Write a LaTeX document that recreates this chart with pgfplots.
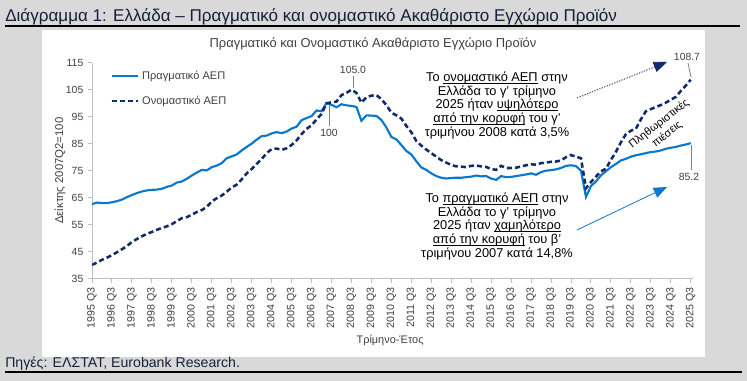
\documentclass[border=0pt]{standalone}
\usepackage{pgfplots}
\pgfplotsset{compat=1.18}
\usepackage{pgfplotstable}
\usepackage{fontspec}
\setmainfont{Liberation Sans}
\usetikzlibrary{arrows.meta}
\definecolor{bg}{HTML}{D9D9D9}
\definecolor{realc}{HTML}{0A78CC}
\definecolor{nomc}{HTML}{102A6B}
\definecolor{axc}{HTML}{BFBFBF}
\definecolor{txt}{HTML}{404040}
\definecolor{ttl}{HTML}{17203A}
\newcommand{\ul}[1]{\begingroup\setbox0=\hbox{#1}\rlap{\rule[-1.6pt]{\wd0}{0.55pt}}\box0\endgroup}

\pgfplotstableread{
i real nom
0 62.6 40.1
1 63.2 41.0
2 63.0 42.0
3 63.0 42.8
4 63.3 43.7
5 63.7 44.8
6 64.3 45.9
7 65.2 47.1
8 66.0 48.6
9 66.7 49.7
10 67.3 50.7
11 67.7 51.6
12 67.9 52.3
13 68.0 53.1
14 68.3 53.8
15 69.0 54.4
16 69.5 55.2
17 70.6 56.3
18 71.0 57.4
19 72.0 57.8
20 73.2 58.7
21 74.3 59.7
22 75.3 60.4
23 75.1 61.6
24 76.3 63.6
25 76.9 64.8
26 77.8 65.8
27 79.6 67.2
28 80.3 68.8
29 81.0 69.8
30 82.5 71.8
31 83.8 74.0
32 85.0 75.6
33 86.5 77.5
34 87.8 79.3
35 88.0 81.5
36 88.8 83.0
37 89.3 83.2
38 88.9 82.7
39 89.5 83.3
40 90.6 84.5
41 91.3 86.2
42 93.7 88.5
43 94.5 90.5
44 95.2 91.8
45 97.3 94.0
46 97.0 96.0
47 100.0 100.0
48 99.4 100.3
49 98.5 100.6
50 99.6 103.0
51 99.2 103.8
52 99.0 105.0
53 98.6 103.8
54 93.5 100.2
55 95.5 102.2
56 95.4 102.8
57 95.3 103.0
58 93.8 101.5
59 91.0 99.3
60 87.5 96.5
61 86.6 95.5
62 84.5 94.3
63 82.3 91.6
64 81.0 89.2
65 78.5 86.0
66 76.2 84.3
67 75.3 82.8
68 74.0 81.5
69 73.0 80.2
70 72.4 78.9
71 72.1 78.0
72 72.3 77.1
73 72.4 76.6
74 72.4 76.5
75 72.6 76.3
76 72.8 76.8
77 73.2 76.9
78 72.9 76.6
79 73.0 76.4
80 72.1 75.6
81 71.6 75.3
82 73.0 76.8
83 72.6 76.0
84 72.7 76.0
85 73.0 76.1
86 73.3 76.6
87 73.6 77.0
88 74.0 77.4
89 73.5 77.2
90 74.5 77.8
91 75.0 78.0
92 75.2 78.3
93 75.5 78.4
94 76.0 78.8
95 76.8 80.0
96 77.0 80.8
97 76.7 80.2
98 75.0 79.6
99 65.3 68.5
100 69.3 70.8
101 71.0 72.8
102 73.3 74.8
103 74.8 75.7
104 76.3 79.0
105 77.5 82.0
106 78.8 85.5
107 79.4 88.5
108 80.2 89.8
109 80.7 90.5
110 81.1 94.0
111 81.5 97.0
112 81.9 97.8
113 82.1 98.6
114 82.5 99.3
115 83.1 100.2
116 83.5 101.3
117 83.8 102.3
118 84.3 104.5
119 84.7 106.5
120 85.2 108.7
}\gdpdata

\begin{document}
\begin{tikzpicture}[x=0.75pt,y=0.75pt]
\path[use as bounding box, fill=bg] (0,0) rectangle (747,381);
\fill[white] (42,381-30) rectangle (705,381-357);
\draw[black, line width=0.9pt] (5,381-26) -- (740,381-26);
\draw[black, line width=0.9pt] (5,381-372) -- (742,381-372);
\node[anchor=base west, inner sep=0, font=\fontsize{12.8}{14}\selectfont, text=ttl] at (5,381-21.5) {Διάγραμμα 1: Ελλάδα – Πραγματικό και ονομαστικό Ακαθάριστο Εγχώριο Προϊόν};
\node[anchor=base west, inner sep=0, font=\fontsize{10.6}{12}\selectfont, text=ttl] at (5,381-367.5) {Πηγές: ΕΛΣΤΑΤ, Eurobank Research.};
\node[anchor=base, inner sep=0, font=\fontsize{9.7}{11}\selectfont, text=txt] at (373,381-47.7) {Πραγματικό και Ονομαστικό Ακαθάριστο Εγχώριο Προϊόν};

\begin{axis}[
  at={(69pt,76.725pt)}, anchor=south west,
  scale only axis, width=450.75pt, height=162pt,
  xmin=0, xmax=120.45, ymin=35, ymax=115,
  axis x line*=bottom, axis y line*=left,
  axis line style={draw=axc, line width=0.7pt},
  xtick={0,4,...,120},
  xticklabels={1995 Q3,1996 Q3,1997 Q3,1998 Q3,1999 Q3,2000 Q3,2001 Q3,2002 Q3,2003 Q3,2004 Q3,2005 Q3,2006 Q3,2007 Q3,2008 Q3,2009 Q3,2010 Q3,2011 Q3,2012 Q3,2013 Q3,2014 Q3,2015 Q3,2016 Q3,2017 Q3,2018 Q3,2019 Q3,2020 Q3,2021 Q3,2022 Q3,2023 Q3,2024 Q3,2025 Q3},
  ytick={35,45,...,115},
  tick style={draw=axc, line width=0.7pt},
  tick align=outside,
  major tick length=3pt,
  /pgf/number format/assume math mode=true,
  x tick label style={rotate=90, anchor=east, font=\fontsize{8}{9}\selectfont, text=txt},
  y tick label style={font=\fontsize{7.8}{9}\selectfont, text=txt},
  ylabel={Δείκτης 2007Q2=100},
  ylabel style={at={(axis description cs:-0.053,0.5)}, anchor=center, font=\fontsize{8.5}{10}\selectfont, text=txt},
  xlabel={Τρίμηνο-Έτος},
  xlabel style={at={(axis description cs:0.496,-0.284)}, anchor=center, font=\fontsize{8.2}{10}\selectfont, text=txt},
  legend style={at={(axis description cs:0.03,0.975)}, anchor=north west, draw=none, fill=none,
     font=\fontsize{8.3}{10}\selectfont, text=txt, row sep=7pt, inner sep=0pt},
  legend cell align=left,
  legend image code/.code={\draw (0pt,0pt) -- (20pt,0pt);},
]
\addplot[realc, line width=1.6pt] table[x=i,y=real]{\gdpdata};
\addlegendentry{Πραγματικό ΑΕΠ}
\addplot[nomc, line width=1.9pt, dash pattern=on 3.8pt off 2.3pt] table[x=i,y=nom]{\gdpdata};
\addlegendentry{Ονομαστικό ΑΕΠ}
\end{axis}

% value labels
\begin{scope}[font=\fontsize{7.8}{9}\selectfont, text=txt]
\node at (353,381-70) {105.0};
\draw[gray, line width=0.6pt] (353,381-76) -- (353,381-88);
\node at (329,381-133) {100};
\draw[gray, line width=0.6pt] (329,381-105) -- (329,381-126);
\node at (687,381-57) {108.7};
\draw[gray, line width=0.6pt] (688,381-63) -- (691,381-77);
\node at (689,381-177) {85.2};
\draw[gray, line width=0.6pt] (691,381-145) -- (691,381-170);
\end{scope}

% annotation texts
\node[anchor=north, inner sep=0, align=center, font=\fontsize{9.6}{10.15}\selectfont] at (497,381-72)
 {Το \ul{ονομαστικό ΑΕΠ} στην\\Ελλάδα το γ' τρίμηνο\\2025 ήταν \ul{υψηλότερο}\\\ul{από την κορυφή} του γ'\\τριμήνου 2008 κατά 3,5\%};
\node[anchor=north, inner sep=0, align=center, font=\fontsize{9.6}{10.15}\selectfont] at (497,381-193)
 {Το \ul{πραγματικό ΑΕΠ} στην\\Ελλάδα το γ' τρίμηνο\\2025 ήταν \ul{χαμηλότερο}\\\ul{από την κορυφή} του β'\\τριμήνου 2007 κατά 14,8\%};

\draw[nomc, line width=0.6pt, dash pattern=on 1pt off 1pt, -{Triangle[length=10pt,width=8pt]}] (577,381-98) -- (667,381-62);
\draw[realc, line width=0.6pt, -{Triangle[length=10pt,width=8pt]}] (577,381-230) -- (667,381-187);

\node[rotate=38, align=center, inner sep=0, font=\fontsize{8.3}{9.8}\selectfont] at (663,381-129) {Πληθωριστικές\\πιέσεις};
\end{tikzpicture}
\end{document}
